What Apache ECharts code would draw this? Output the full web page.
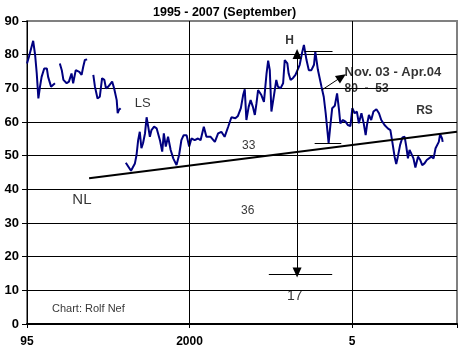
<!DOCTYPE html>
<html><head><meta charset="utf-8">
<script src="https://cdn.jsdelivr.net/npm/echarts@6/dist/echarts.min.js"></script>
<style>html,body{margin:0;padding:0;background:#fff}#c{width:461px;height:351px}</style>
</head><body><div id="c"></div>
<script>
// ---- data (decimal year, value); null = gap in the series ----
const years = [
 1995.00,1995.06,1995.19,1995.25,1995.30,1995.35,1995.40,1995.45,1995.53,1995.61,1995.65,1995.74,1995.79,1995.86,
 1995.93,
 1996.01,1996.07,1996.12,1996.22,1996.29,1996.37,1996.42,1996.50,1996.56,1996.61,1996.68,1996.73,1996.78,1996.85,
 1996.95,
 1997.04,1997.09,1997.17,1997.24,1997.31,1997.38,1997.43,1997.50,1997.55,1997.62,1997.68,1997.76,1997.79,1997.83,1997.88,
 1997.96,
 1998.04,1998.20,1998.32,1998.37,1998.42,1998.47,1998.52,1998.57,1998.63,1998.68,1998.73,1998.78,1998.83,1998.91,1998.99,
 1999.09,1999.16,1999.21,1999.27,1999.34,1999.42,1999.50,1999.60,1999.68,1999.75,1999.82,1999.91,1999.99,
 2000.06,2000.16,2000.26,2000.34,2000.44,2000.52,2000.65,2000.78,2000.88,2000.98,
 2001.08,2001.19,2001.29,2001.41,2001.49,2001.58,2001.65,2001.70,2001.75,2001.82,2001.88,2001.95,
 2002.01,2002.06,2002.11,2002.21,2002.29,2002.37,2002.42,2002.47,2002.52,2002.60,2002.67,2002.72,2002.80,2002.88,2002.93,
 2003.01,2003.05,2003.11,2003.18,2003.26,2003.32,2003.39,2003.46,2003.52,2003.60,2003.67,2003.75,2003.83,2003.87,2003.95,
 2004.06,2004.13,2004.19,2004.23,2004.28,2004.33,2004.39,2004.47,2004.54,2004.60,2004.64,2004.72,2004.80,2004.87,2004.95,
 2005.01,2005.08,2005.15,2005.21,2005.29,2005.36,2005.42,2005.46,2005.52,2005.59,2005.66,2005.75,2005.83,2005.90,
 2006.00,2006.10,2006.18,2006.24,2006.31,2006.36,2006.41,2006.48,2006.55,2006.62,2006.67,2006.72,2006.77,2006.82,2006.89,2006.95,
 2007.03,2007.10,2007.16,2007.23,2007.30,2007.36,2007.44,2007.51,2007.57,2007.62,2007.67,2007.71,2007.77,2007.79
];
const values = [
 77.4,79.4,84.1,79.9,74.4,67.0,70.5,73.4,75.9,75.9,73.4,70.5,70.0,71.5,
 null,
 77.4,75.4,72.5,71.5,72.0,74.4,71.5,75.4,75.9,74.9,74.0,76.4,78.4,78.6,
 null,
 74.0,70.5,67.0,67.5,73.0,72.5,70.0,70.5,71.0,72.0,70.0,66.5,62.6,63.6,64.1,
 null,
 47.9,45.5,47.7,50.2,54.6,57.1,52.2,53.7,56.6,61.4,58.6,55.6,57.6,58.6,58.1,
 54.6,51.2,56.6,52.7,55.6,51.7,49.2,47.2,50.2,54.6,56.1,56.1,52.7,
 55.1,54.6,55.1,54.6,58.6,55.6,55.6,54.1,56.6,57.1,
 55.6,58.6,61.4,61.1,61.8,64.1,68.0,69.7,60.6,64.5,66.5,64.5,
 62.1,65.5,69.5,68.0,66.0,74.4,78.2,75.4,63.1,68.0,72.5,70.5,70.0,71.5,78.4,
 77.4,74.4,72.5,73.0,74.0,74.4,77.0,80.4,82.9,78.4,75.4,75.4,77.0,80.9,75.5,
 70.5,67.5,62.6,58.6,53.7,58.6,64.1,64.8,68.5,63.6,59.6,60.6,60.1,59.1,58.8,
 64.1,62.6,63.1,59.6,62.6,59.6,56.1,59.1,62.1,60.6,63.1,63.8,62.6,60.6,
 59.1,58.1,57.6,54.1,49.7,47.5,49.7,53.2,55.4,55.6,52.7,49.2,51.7,50.7,49.2,46.5,
 49.7,48.7,47.2,47.7,48.7,49.2,49.7,49.2,52.2,51.9,54.1,56.4,55.1,54.1
];
const xTicks = [1995, 2000, 2005];
const xTickLabels = ['95', '2000', '5'];
const yTicks = [0,10,20,30,40,50,60,70,80,90];

// neckline (trend line) endpoints
const trendX = [1996.91, 2008.23];
const trendY = [43.3, 57.1];
// H measurement lines
const hLineX = [2003.31, 2003.31];
const hLineY = [80.2, 15.3];
const topBarX = [2003.54, 2004.40];   const topBarY = 80.9;
const midBarX = [2003.85, 2004.67];   const midBarY = 53.7;
const lowBarX = [2002.44, 2004.39];   const lowBarY = 14.8;
const pointerX = [2004.07, 2004.68];  const pointerY = [69.5, 73.4];

// text annotations
const annTexts = ['NL','LS','H','RS','33','36','17','Nov. 03 - Apr.04','80  -  53','Chart: Rolf Nef'];
const annX = [1996.69,1998.56,2003.08,2007.23,2001.82,2001.79,2003.24,2004.77,2004.77,1995.77];
const annY = [36.8,65.5,84.3,63.4,52.9,33.6,8.3,74.7,69.8,4.45];

const FONT = '"Liberation Sans", Arial, sans-serif';
const annStyle = [
  {fontSize:15, fontWeight:'normal', align:'center'},
  {fontSize:13, fontWeight:'normal', align:'center'},
  {fontSize:12, fontWeight:'bold', align:'center'},
  {fontSize:12, fontWeight:'bold', align:'center'},
  {fontSize:12, fontWeight:'normal', align:'center'},
  {fontSize:12, fontWeight:'normal', align:'center'},
  {fontSize:14, fontWeight:'normal', align:'center'},
  {fontSize:13, fontWeight:'bold', align:'left'},
  {fontSize:12, fontWeight:'bold', align:'left'},
  {fontSize:11, fontWeight:'normal', align:'left'}
];

const lineData = years.map((x, i) => [x, values[i] === null ? '-' : values[i]]);

const seg = (x1, y1, x2, y2, s1, s2, w) => [
  {coord:[x1, y1], symbol: s1, lineStyle:{width: w}},
  {coord:[x2, y2], symbol: s2}
];

const chart = echarts.init(document.getElementById('c'), null, {renderer:'canvas'});
chart.setOption({
  animation: false,
  backgroundColor: '#fff',
  title: {
    text: '1995 - 2007 (September)', left: 148, top: 1,
    textStyle: {fontFamily: FONT, fontSize: 12.5, fontWeight: 'bold', color: '#000'}
  },
  grid: {left: 27, right: 4, top: 21, bottom: 27, show: true, borderColor: '#808080', borderWidth: 2, backgroundColor: 'transparent'},
  xAxis: {
    type: 'value', min: 1995, max: 2008.23, interval: 5,
    axisLine: {lineStyle: {color: '#000', width: 2}},
    axisTick: {length: 4, lineStyle: {color: '#000'}},
    splitLine: {show: false},
    axisLabel: {
      margin: 12, fontFamily: FONT, fontSize: 12, fontWeight: 'bold', color: '#000',
      formatter: v => { const k = xTicks.indexOf(v); return k >= 0 ? xTickLabels[k] : ''; }
    }
  },
  yAxis: {
    type: 'value', min: 0, max: 90, interval: 10,
    axisLine: {show: true, lineStyle: {color: '#000', width: 1}},
    axisTick: {show: true, length: 5, lineStyle: {color: '#000'}},
    splitLine: {show: true, lineStyle: {color: ['#000','#000','#000','#000','#000','#000','#000','#000','#000','#808080'], width: 1}},
    axisLabel: {margin: 8, fontFamily: FONT, fontSize: 13, fontWeight: 'bold', color: '#000',
      formatter: v => yTicks.indexOf(v) >= 0 ? String(v) : ''}
  },
  series: [
    {
      type: 'line', data: [], z: 1, silent: true,
      markLine: {
        silent: true, symbol: 'none', animation: false,
        label: {show: false},
        lineStyle: {color: '#000', type: 'solid', width: 1},
        data: [{xAxis: xTicks[1]}, {xAxis: xTicks[2]}]
      }
    },
    {
      type: 'line', data: lineData, z: 3, symbol: 'none', showSymbol: false,
      connectNulls: false,
      lineStyle: {color: '#000080', width: 2},
      itemStyle: {color: '#000080'}
    },
    {
      type: 'line', data: [], z: 5, silent: true,
      markLine: {
        silent: true, animation: false, symbolSize: [9, 10],
        label: {show: false},
        lineStyle: {color: '#000', type: 'solid', width: 1},
        data: [
          seg(trendX[0], trendY[0], trendX[1], trendY[1], 'none', 'none', 2),
          seg(hLineX[0], hLineY[0], hLineX[1], hLineY[1], 'triangle', 'triangle', 1),
          seg(topBarX[0], topBarY, topBarX[1], topBarY, 'none', 'none', 1),
          seg(midBarX[0], midBarY, midBarX[1], midBarY, 'none', 'none', 1),
          seg(lowBarX[0], lowBarY, lowBarX[1], lowBarY, 'none', 'none', 1),
          seg(pointerX[0], pointerY[0], pointerX[1], pointerY[1], 'none', 'triangle', 1)
        ]
      }
    },
    {
      type: 'scatter', z: 6, silent: true, symbolSize: 0,
      data: annTexts.map((t, i) => ({
        value: [annX[i], annY[i]], name: t,
        label: {
          show: true, position: [0, 0], formatter: t,
          fontFamily: FONT, color: '#000',
          fontSize: annStyle[i].fontSize, fontWeight: annStyle[i].fontWeight,
          align: annStyle[i].align, verticalAlign: 'middle'
        }
      }))
    }
  ]
});
</script>
</body></html>
